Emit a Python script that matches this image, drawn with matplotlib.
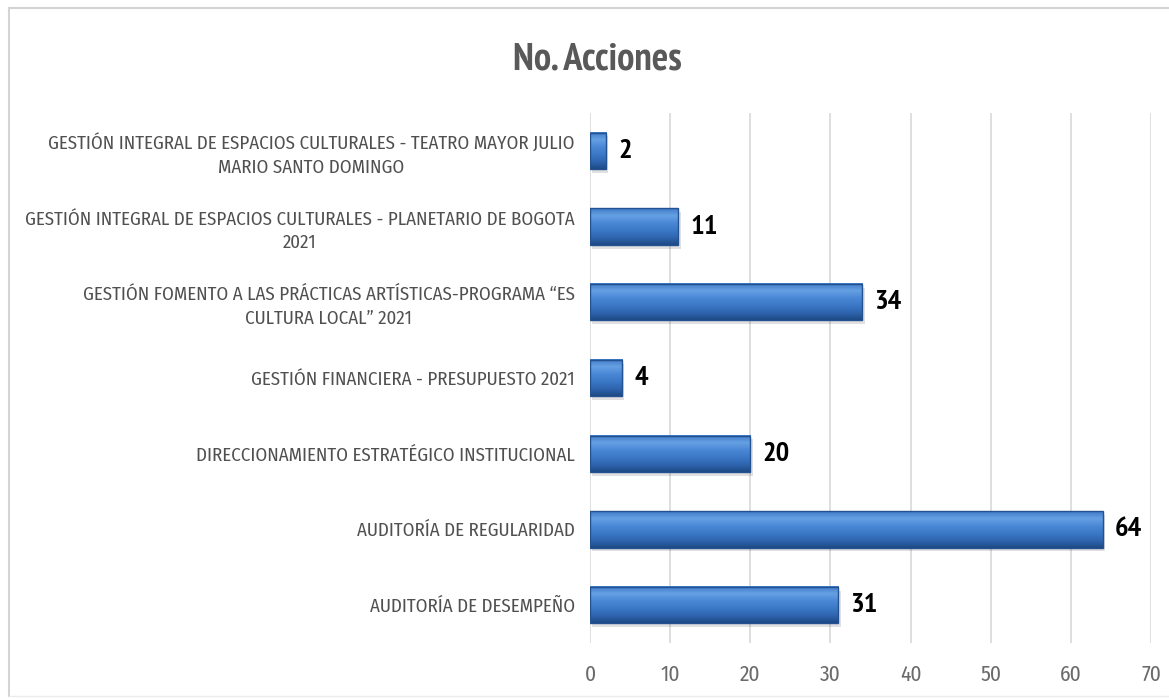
import numpy as np
import matplotlib.pyplot as plt
from matplotlib.patches import Rectangle
from matplotlib.colors import LinearSegmentedColormap
from matplotlib.lines import Line2D

# Data
categorias = [
    "AUDITORÍA DE DESEMPEÑO",
    "AUDITORÍA DE REGULARIDAD",
    "DIRECCIONAMIENTO ESTRATÉGICO INSTITUCIONAL",
    "GESTIÓN FINANCIERA - PRESUPUESTO 2021",
    "GESTIÓN FOMENTO A LAS PRÁCTICAS ARTÍSTICAS-PROGRAMA \u201cES\nCULTURA LOCAL\u201d 2021",
    "GESTIÓN INTEGRAL DE ESPACIOS CULTURALES - PLANETARIO DE BOGOTA\n2021",
    "GESTIÓN INTEGRAL DE ESPACIOS CULTURALES - TEATRO MAYOR JULIO\nMARIO SANTO DOMINGO",
]
acciones = [31, 64, 20, 4, 34, 11, 2]
xticks = [0, 10, 20, 30, 40, 50, 60, 70]

label_font = ['Fira Sans Condensed', 'DejaVu Sans']
bold_font = ['PT Sans Narrow', 'DejaVu Sans']
plt.rcParams['font.family'] = label_font

fig = plt.figure(figsize=(11.69, 6.98), dpi=100)
ax = fig.add_axes([590/1169, 1-643/698, 561/1169, 530/698])

# light border of the chart box (left, top, bottom visible)
fig.add_artist(Line2D([9/1169, 9/1169], [2/698, 1-8/698], transform=fig.transFigure, color='#d4d4d4', lw=1.5))
fig.add_artist(Line2D([9/1169, 1], [1-8/698, 1-8/698], transform=fig.transFigure, color='#d4d4d4', lw=1.5))
fig.add_artist(Line2D([9/1169, 1], [2/698, 2/698], transform=fig.transFigure, color='#ececec', lw=1.0))

y = np.arange(len(categorias))
h = 0.48
# vertical gradient to imitate the bevelled bars
grad = np.linspace(0, 1, 64).reshape(-1, 1)
cmap = LinearSegmentedColormap.from_list('b', ['#1e4a86', '#2f66b0', '#3b78c6', '#4a88d6', '#66a0e4', '#3f7cc8'])
for yi, v in zip(y, acciones):
    # soft shadow under the bar
    ax.add_patch(Rectangle((0.3, yi - h/2 - 0.05), v, h, facecolor='#000000', alpha=0.12, edgecolor='none', zorder=2))
    ax.imshow(grad, extent=(0, v, yi - h/2, yi + h/2), aspect='auto', cmap=cmap, origin='lower', zorder=3,
              interpolation='bilinear')
    ax.add_patch(Rectangle((0, yi - h/2), v, h, fill=False, edgecolor='#24518f', linewidth=1.0, zorder=4))
    ax.text(v + 1.5, yi, str(v), va='center', ha='left', fontsize=20.5, fontweight='bold',
            family=bold_font, color='black', zorder=5)

ax.set_xlim(0, 70)
ax.set_ylim(-0.5, len(categorias) - 0.5)
ax.set_xticks(xticks)
ax.set_yticks(y)
ax.set_yticklabels(categorias, fontsize=13.6, color='#505050', ha='right', multialignment='center',
                   linespacing=1.4)
ax.tick_params(axis='y', length=0, pad=11)
ax.tick_params(axis='x', length=0, labelsize=15.5, labelcolor='#6a6a6a', pad=15)
ax.grid(axis='x', color='#d9d9d9', linewidth=1.2)
ax.set_axisbelow(True)
for s in ax.spines.values():
    s.set_visible(False)

fig.text(597/1169, 1-70/698, 'No. Acciones', ha='center', va='baseline', fontsize=27.8,
         color='#595959', fontweight='bold', family=bold_font)

fig.savefig('out.png', dpi=100)
